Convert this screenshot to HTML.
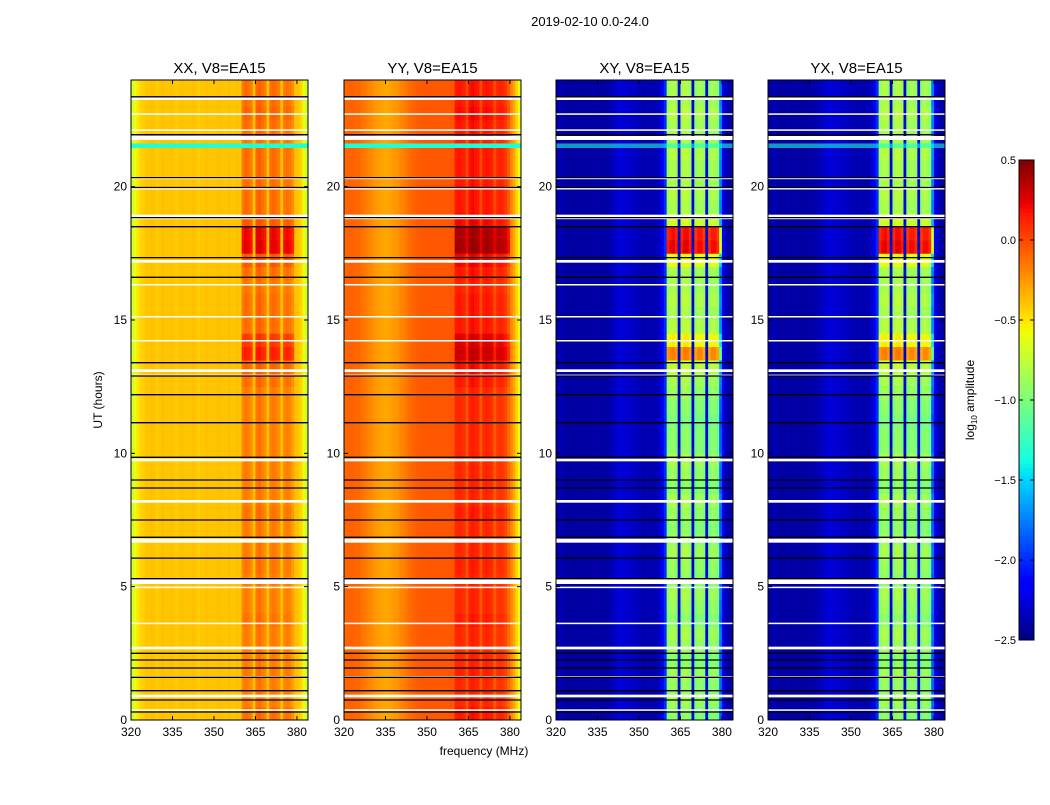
<!DOCTYPE html>
<html><head><meta charset="utf-8"><style>
body{margin:0;background:#fff;}
svg text{font-family:"Liberation Sans",sans-serif;fill:#000;}
</style></head><body>
<svg id="fig" width="1050" height="800" viewBox="0 0 1050 800" xmlns="http://www.w3.org/2000/svg">
<rect width="1050" height="800" fill="#fff"/>
<text x="590" y="26" font-size="13" text-anchor="middle">2019-02-10 0.0-24.0</text>
<text x="484" y="755" font-size="12" text-anchor="middle">frequency (MHz)</text>
<text transform="translate(102,400) rotate(-90)" font-size="12" text-anchor="middle">UT (hours)</text>
<g id="panels"></g>
<g id="cbar"></g>
</svg>
<script>
// ---- data ----
const panelTitles = ["XX, V8=EA15","YY, V8=EA15","XY, V8=EA15","YX, V8=EA15"];
const xTicks = [320,335,350,365,380];
const yTicks = [0,5,10,15,20];
const cbTicks = [0.5,0.0,-0.5,-1.0,-1.5,-2.0,-2.5];
const cbLabels = ["0.5","0.0","\u22120.5","\u22121.0","\u22121.5","\u22122.0","\u22122.5"];
// channel base log10 amplitude, 1 MHz bins 320..383
const baseXX = [-0.7,-0.6,-0.5,-0.45,-0.42,-0.4,-0.4,-0.38,-0.4,-0.42,-0.4,-0.38,-0.4,-0.4,-0.38,-0.4,-0.42,-0.4,-0.38,-0.4,-0.4,-0.4,-0.38,-0.4,-0.42,-0.4,-0.4,-0.38,-0.4,-0.4,-0.4,-0.38,-0.38,-0.4,-0.4,-0.38,-0.4,-0.4,-0.38,-0.4,
 -0.2,-0.15,-0.18,-0.22,-0.38, -0.15,-0.12,-0.18,-0.22,-0.38, -0.18,-0.15,-0.18,-0.22,-0.38, -0.2,-0.17,-0.2,-0.28,-0.38, -0.4,-0.45,-0.6,-0.7];
const baseYY = [-0.1,-0.08,-0.08,-0.08,-0.1,-0.1,-0.13,-0.15,-0.18,-0.2,-0.22,-0.26,-0.27,-0.28,-0.3,-0.3,-0.29,-0.27,-0.25,-0.24,-0.2,-0.18,-0.15,-0.12,-0.1,-0.08,-0.07,-0.06,-0.05,-0.05,-0.05,-0.05,-0.05,-0.05,-0.05,-0.05,-0.05,-0.05,-0.04,-0.04,
 0.1,0.12,0.1,0.08,-0.05, 0.12,0.15,0.12,0.1,-0.05, 0.1,0.12,0.1,0.08,-0.05, 0.05,0.08,0.05,0.0,-0.1, -0.2,-0.3,-0.45,-0.6];
const baseXY = [-2.4,-2.35,-2.4,-2.4,-2.42,-2.4,-2.42,-2.4,-2.4,-2.42,-2.4,-2.4,-2.42,-2.4,-2.4,-2.4,-2.42,-2.4,-2.4,-2.38,-2.35,-2.3,-2.28,-2.25,-2.3,-2.28,-2.3,-2.32,-2.3,-2.35,-2.35,-2.38,-2.38,-2.35,-2.38,-2.38,-2.35,-2.3,-2.2,-2.0,
 -1.05,-0.98,-0.95,-1.05,-2.3, -1.05,-0.95,-0.95,-1.05,-2.3, -1.1,-1.0,-1.0,-1.1,-2.3, -1.1,-1.0,-1.0,-1.1,-1.9, -2.2,-2.35,-2.4,-2.4];
const baseYX = [-2.4,-2.4,-2.35,-2.4,-2.4,-2.42,-2.4,-2.4,-2.42,-2.4,-2.4,-2.4,-2.42,-2.4,-2.4,-2.4,-2.4,-2.38,-2.36,-2.33,-2.3,-2.28,-2.25,-2.28,-2.3,-2.28,-2.3,-2.32,-2.32,-2.35,-2.35,-2.38,-2.38,-2.35,-2.38,-2.38,-2.35,-2.3,-2.2,-2.0,
 -1.05,-0.98,-0.95,-1.05,-2.3, -1.05,-0.95,-0.95,-1.05,-2.3, -1.1,-1.0,-1.0,-1.1,-2.3, -1.1,-1.0,-1.0,-1.1,-1.9, -2.2,-2.35,-2.4,-2.4];
// band (360-380 MHz) boost per 0.5 h row, 0..24 h
const boostXX = [0.05,0,0,0.02,0,0,0,0.03,0,0,0,0.02,0,0,0,0.03,0,0,0,0,0,0,0,0,0,0.05,0.08,0.3,0.22,0.05,0.05,0.05,0.02,0.05,0.12,0.4,0.38,0.12,0.05,0.05,0.05,0.05,0.05,0.02,0.05,0.08,0.05,0.05];
const boostYY = [0.05,0,0,0.02,0,0,0,0.03,0,0,0,0.02,0,0,0,0.03,0,0,0,0,0,0,0,0,0,0.05,0.08,0.2,0.15,0.05,0.05,0.05,0.02,0.05,0.1,0.3,0.28,0.1,0.05,0.05,0.05,0.05,0.05,0.02,0.05,0.08,0.05,0.05];
const boostXY = [0.05,0.12,0.08,0.12,0.05,0.1,0.15,0.05,0.1,0.15,0.05,0.1,0.15,0.1,0.05,0.1,0.15,0.05,0.1,0.15,0.05,0.05,0.0,0.05,0.1,0.15,0.25,0.8,0.45,0.2,0.15,0.2,0.15,0.15,0.4,1.2,1.15,0.3,0.15,0.2,0.15,0.15,0.2,0.15,0.15,0.2,0.15,0.15];
const boostYX = [0.05,0.12,0.08,0.12,0.05,0.1,0.15,0.05,0.1,0.15,0.05,0.1,0.15,0.1,0.05,0.1,0.15,0.05,0.1,0.15,0.05,0.05,0.0,0.05,0.1,0.15,0.25,0.8,0.45,0.2,0.15,0.2,0.15,0.15,0.4,1.2,1.15,0.3,0.15,0.2,0.15,0.15,0.2,0.15,0.15,0.2,0.15,0.15];
// flagged (white) time ranges, hours
const flagStart = [23.25,22.7,22.1,21.75,20.28,19.9,18.78,17.15,16.3,15.1,14.2,13.05,12.9,9.7,8.15,6.65,5.1,4.95,3.6,2.65,1.6,0.85,0.35];
const flagEnd   = [23.35,22.75,22.15,21.9,20.34,19.95,18.95,17.25,16.35,15.15,14.25,13.15,12.95,9.8,8.25,6.8,5.3,5.0,3.65,2.75,1.65,0.95,0.4];
// black separator lines
const lineTimes = [23.37,21.95,20.34,19.97,18.84,18.5,17.34,16.6,13.4,12.9,12.2,11.15,9.85,9.0,8.7,7.5,6.85,6.07,5.3,2.5,2.25,1.95,1.6,1.1,0.75,0.3];
// RFI row
const rfiStart = 21.45, rfiEnd = 21.62, rfiValue = -1.35;

const panelX = [131,344,556,768];
const bases = [baseXX,baseYY,baseXY,baseYX];
const boosts = [boostXX,boostYY,boostXY,boostYX];
const PW = 177, PT = 80, PB = 720;
const fMin = 320, fMax = 384, tMin = 0, tMax = 24;
const vMin = -2.5, vMax = 0.5;
const NS = "http://www.w3.org/2000/svg";

function xScale(p, f){ return panelX[p] + (f - fMin) / (fMax - fMin) * PW; }
function yScale(t){ return PB - (t - tMin) / (tMax - tMin) * (PB - PT); }
function interp(pts, x){
  for (let i = 1; i < pts.length; i++){
    if (x <= pts[i][0]){ const a = pts[i-1], b = pts[i]; return a[1] + (b[1]-a[1])*(x-a[0])/(b[0]-a[0]); }
  }
  return pts[pts.length-1][1];
}
const JR = [[0,0],[0.35,0],[0.66,1],[0.89,1],[1,0.5]];
const JG = [[0,0],[0.125,0],[0.375,1],[0.64,1],[0.91,0],[1,0]];
const JB = [[0,0.5],[0.11,1],[0.34,1],[0.65,0],[1,0]];
function jet(v){
  const x = Math.max(0, Math.min(1, (v - vMin) / (vMax - vMin)));
  const c = (a)=>Math.round(255*Math.max(0,Math.min(1,a)));
  return `rgb(${c(interp(JR,x))},${c(interp(JG,x))},${c(interp(JB,x))})`;
}
function mk(tag, attrs, parent){
  const e = document.createElementNS(NS, tag);
  for (const k in attrs) e.setAttribute(k, attrs[k]);
  parent.appendChild(e); return e;
}
const gP = document.getElementById('panels');
for (let p = 0; p < 4; p++){
  const g = mk('g', {}, gP);
  
  
  const base = bases[p], boost = boosts[p];
  const rowH = (tMax - tMin) / boost.length;
  for (let r = 0; r < boost.length; r++){
    const t0 = r*rowH, t1 = t0 + rowH;
    const y0 = yScale(t1), y1 = yScale(t0);
    for (let c = 0; c < base.length; c++){
      const f = fMin + c;
      const inBand = f >= 360 && f < 380 && base[c] > (p < 2 ? -0.3 : -2.0);
      const v = base[c] + (inBand ? boost[r] : 0);
      const x0 = xScale(p, f), x1 = xScale(p, f + 1);
      const cell = mk('rect', {x:x0.toFixed(2), y:y0.toFixed(2), width:(x1-x0+0.4).toFixed(2), height:(y1-y0+0.4).toFixed(2), fill:jet(v)}, g);
      
      
    }
  }
  // RFI row
  const rf = mk('rect', {x:panelX[p], y:yScale(rfiEnd), width:PW, height:yScale(rfiStart)-yScale(rfiEnd), fill:jet(rfiValue), opacity:p<2?1:0.6}, g);
  
  
  for (let i = 0; i < flagStart.length; i++){
    const fr = mk('rect', {x:panelX[p], y:yScale(flagEnd[i]), width:PW, height:Math.max(1.5, yScale(flagStart[i])-yScale(flagEnd[i])), fill:'#fff'}, g);
    
    
  }
  for (let i = 0; i < lineTimes.length; i++){
    const ln = mk('line', {x1:panelX[p], x2:panelX[p]+PW, y1:yScale(lineTimes[i]), y2:yScale(lineTimes[i]), stroke:'#000', 'stroke-width':1.3}, g);
    
    
  }
  const fr = mk('rect', {x:panelX[p], y:PT, width:PW, height:PB-PT, fill:'none', stroke:'#000', 'stroke-width':1}, g);
  
  
  const tt = mk('text', {x:panelX[p]+PW/2, y:73, 'font-size':15, 'text-anchor':'middle'}, g);
  tt.textContent = panelTitles[p];
  
  
  for (const f of xTicks){
    const x = xScale(p, f);
    mk('line', {x1:x, x2:x, y1:PB, y2:PB-4, stroke:'#000'}, g);
    mk('line', {x1:x, x2:x, y1:PT, y2:PT+4, stroke:'#000'}, g);
    const tl = mk('text', {x:x, y:PB+16, 'font-size':12, 'text-anchor':'middle'}, g);
    tl.textContent = f;
    
    
  }
  for (const t of yTicks){
    const y = yScale(t);
    mk('line', {x1:panelX[p], x2:panelX[p]+4, y1:y, y2:y, stroke:'#000'}, g);
    mk('line', {x1:panelX[p]+PW, x2:panelX[p]+PW-4, y1:y, y2:y, stroke:'#000'}, g);
    const tl = mk('text', {x:panelX[p]-4, y:y+4, 'font-size':12, 'text-anchor':'end'}, g);
    tl.textContent = t;
    
    
  }
}
// colorbar
const gC = document.getElementById('cbar');
const CX = 1019, CW = 15, CT = 160, CB = 640;
function cbY(v){ return CB - (v - vMin) / (vMax - vMin) * (CB - CT); }
for (let i = 0; i < 120; i++){
  const v = vMin + (i + 0.5) * (vMax - vMin) / 120;
  const s = mk('rect', {x:CX, y:cbY(v + 0.0135).toFixed(2), width:CW, height:((CB-CT)/120+0.5).toFixed(2), fill:jet(v)}, gC);
  
  
}
const cf = mk('rect', {x:CX, y:CT, width:CW, height:CB-CT, fill:'none', stroke:'#000'}, gC);


cbTicks.forEach((v, i) => {
  const y = cbY(v);
  mk('line', {x1:CX, x2:CX+4, y1:y, y2:y, stroke:'#000'}, gC);
  mk('line', {x1:CX+CW, x2:CX+CW-4, y1:y, y2:y, stroke:'#000'}, gC);
  const tl = mk('text', {x:CX-3, y:y+4, 'font-size':11, 'text-anchor':'end'}, gC);
  tl.textContent = cbLabels[i];
  
  
});
const cl = mk('text', {transform:'translate(974,400) rotate(-90)', 'font-size':12, 'text-anchor':'middle'}, gC);
cl.innerHTML = 'log<tspan font-size="8" dy="3">10</tspan><tspan dy="-3"> amplitude</tspan>';


</script>
</body></html>
